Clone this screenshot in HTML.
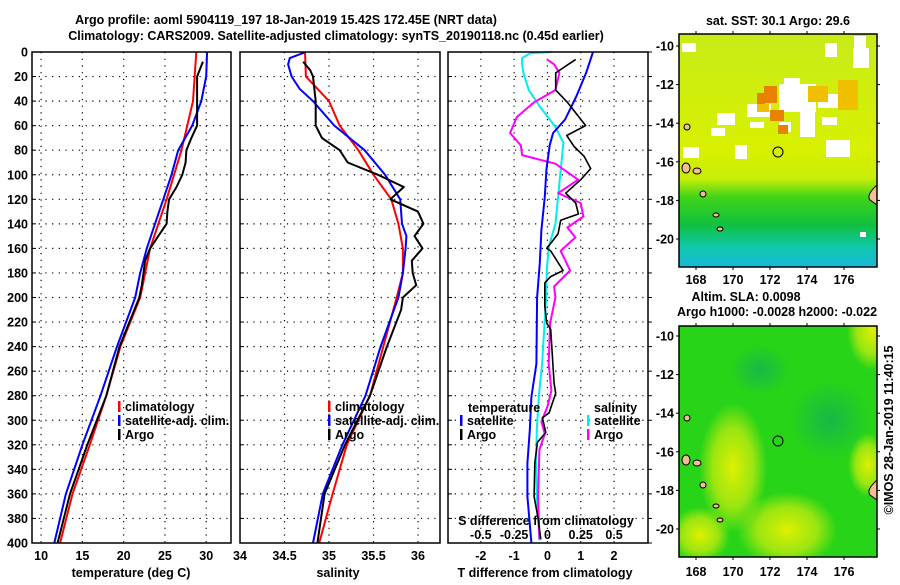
<!DOCTYPE html>
<html><head><meta charset="utf-8"><style>
body{margin:0;background:#fff;width:900px;height:580px;overflow:hidden}
svg text{font-family:"Liberation Sans",sans-serif;font-weight:bold;font-size:12.5px;fill:#000}
</style></head><body>
<svg id="c" width="900" height="580" xmlns="http://www.w3.org/2000/svg">
<text x="286" y="24" text-anchor="middle" font-size="13.5">Argo profile: aoml 5904119_197 18-Jan-2019 15.42S 172.45E (NRT data)</text>
<text x="336" y="40" text-anchor="middle" font-size="13.5">Climatology: CARS2009. Satellite-adjusted climatology: synTS_20190118.nc (0.45d earlier)</text>
<defs>
<linearGradient id="sstg" x1="0" y1="0" x2="0" y2="1">
<stop offset="0" stop-color="#c8ec18"/><stop offset="0.5" stop-color="#d8f000"/><stop offset="0.62" stop-color="#c8ee08"/><stop offset="0.7" stop-color="#40d418"/><stop offset="0.82" stop-color="#10c040"/><stop offset="0.92" stop-color="#10c8b0"/><stop offset="1" stop-color="#18b8d8"/>
</linearGradient>
<radialGradient id="yb"><stop offset="0" stop-color="#e0f000"/><stop offset="0.6" stop-color="#b8ea10" stop-opacity="0.8"/><stop offset="1" stop-color="#b8ea10" stop-opacity="0"/></radialGradient>
<radialGradient id="gb"><stop offset="0" stop-color="#18b848"/><stop offset="1" stop-color="#18b848" stop-opacity="0"/></radialGradient>
<clipPath id="clip1"><rect x="679" y="34" width="198" height="233"/></clipPath>
<clipPath id="clip2"><rect x="679" y="326" width="198" height="231"/></clipPath>
</defs>
<!-- SST map -->
<g>
<text x="778" y="25" text-anchor="middle" font-size="12">sat. SST: 30.1 Argo: 29.6</text>
<g clip-path="url(#clip1)">
<rect x="679" y="34" width="198" height="233" fill="url(#sstg)"/>
<g fill="#fff">
<rect x="682" y="43" width="14" height="9"/><rect x="825" y="43" width="12" height="14"/><rect x="854" y="36" width="12" height="15"/>
<rect x="779" y="84" width="37" height="28"/><rect x="747" y="104" width="24" height="13"/><rect x="800" y="105" width="15" height="32"/>
<rect x="784" y="78" width="16" height="18"/><rect x="818" y="94" width="23" height="14"/><rect x="853" y="48" width="16" height="20"/>
<rect x="717" y="113" width="18" height="12"/><rect x="750" y="122" width="14" height="6"/><rect x="826" y="140" width="24" height="17"/>
<rect x="779" y="122" width="12" height="10"/><rect x="711" y="128" width="14" height="8"/><rect x="822" y="117" width="15" height="8"/>
<rect x="683" y="147" width="16" height="11"/><rect x="735" y="145" width="12" height="14"/><rect x="860" y="232" width="6" height="5"/>
</g>
<g fill="#e88000"><rect x="764" y="86" width="13" height="17"/><rect x="770" y="110" width="14" height="11"/><rect x="778" y="125" width="10" height="9"/><rect x="757" y="93" width="8" height="12"/></g>
<g fill="#f0c000"><rect x="838" y="80" width="20" height="30"/><rect x="808" y="86" width="20" height="16"/><rect x="757" y="104" width="12" height="8"/></g>
<g fill="#f4bd95" stroke="#000" stroke-width="1"><ellipse cx="686" cy="168" rx="4" ry="5"/><ellipse cx="697" cy="171" rx="4" ry="3"/><ellipse cx="703" cy="194" rx="3" ry="3"/><ellipse cx="716" cy="215" rx="3" ry="2"/><ellipse cx="720" cy="229" rx="3" ry="2"/><ellipse cx="687" cy="127" rx="3" ry="3"/><path d="M877 185 Q866 195 870 200 L877 205 Z"/></g>
</g>
<circle cx="778" cy="152" r="5" fill="none" stroke="#000" stroke-width="1"/>
<rect x="679" y="34" width="198" height="233" fill="none" stroke="#000" stroke-width="1.5"/>
</g>
<!-- SLA map -->
<g>
<text x="746" y="301" text-anchor="middle" font-size="12">Altim. SLA: 0.0098</text>
<text x="777" y="316" text-anchor="middle" font-size="12">Argo h1000: -0.0028 h2000: -0.022</text>
<g clip-path="url(#clip2)">
<rect x="679" y="326" width="198" height="231" fill="#28d418"/>
<ellipse cx="733" cy="468" rx="34" ry="65" fill="url(#yb)"/>
<ellipse cx="787" cy="530" rx="50" ry="38" fill="url(#yb)"/>
<ellipse cx="700" cy="535" rx="30" ry="28" fill="url(#yb)"/>
<ellipse cx="872" cy="330" rx="25" ry="40" fill="url(#yb)"/>
<ellipse cx="868" cy="465" rx="20" ry="32" fill="url(#yb)"/>
<ellipse cx="760" cy="370" rx="30" ry="25" fill="url(#gb)"/>
<ellipse cx="830" cy="420" rx="40" ry="40" fill="url(#gb)"/>
<g fill="#f4bd95" stroke="#000" stroke-width="1"><ellipse cx="686" cy="460" rx="4" ry="5"/><ellipse cx="697" cy="463" rx="4" ry="3"/><ellipse cx="703" cy="485" rx="3" ry="3"/><ellipse cx="716" cy="506" rx="3" ry="2"/><ellipse cx="720" cy="520" rx="3" ry="2"/><ellipse cx="687" cy="418" rx="3" ry="3"/><path d="M877 480 Q866 490 870 495 L877 500 Z"/></g>
</g>
<circle cx="778" cy="441" r="5" fill="none" stroke="#000" stroke-width="1"/>
<rect x="679" y="326" width="198" height="231" fill="none" stroke="#000" stroke-width="1.5"/>
<text transform="translate(893,430) rotate(-90)" text-anchor="middle" font-size="12" font-weight="normal">©IMOS 28-Jan-2019 11:40:15</text>
</g>
<g id="plots"></g>
</svg>
<script>
// ---- data ----
const depthTicks=[0,20,40,60,80,100,120,140,160,180,200,220,240,260,280,300,320,340,360,380,400];
const tempTicks=[10,15,20,25,30];
const salTicks=[34,34.5,35,35.5,36];
const tdiffTicks=[-2,-1,0,1,2];
const sdiffTicks=[-0.5,-0.25,0,0.25,0.5];
const latTicks=[-10,-12,-14,-16,-18,-20];
const lonTicks=[168,170,172,174,176];
const tClimD=[0,40,80,120,160,200,240,280,320,360,400];
const tClimV=[28.8,28.4,27.0,25.2,23.2,22.0,19.6,17.9,15.9,13.8,12.3];
const tSatD=[0,20,40,60,80,100,120,140,160,180,200,240,280,320,360,400];
const tSatV=[30.1,30.0,29.4,28.3,26.6,25.8,24.8,23.8,22.8,22.0,21.4,19.2,17.2,15.0,13.0,11.6];
const tArgoD=[8,20,60,70,80,90,100,110,120,130,140,150,160,170,180,190,200,240,280,320,360,400];
const tArgoV=[29.6,28.9,28.9,28.2,27.6,27.5,27.1,26.4,25.5,25.3,25.2,24.2,23.2,22.6,22.4,22.2,21.9,19.5,17.9,15.6,13.5,12.0];
const sClimD=[0,20,40,60,80,100,120,140,160,180,200,240,280,320,360,400];
const sClimV=[34.73,34.74,35.0,35.12,35.33,35.5,35.7,35.78,35.83,35.83,35.76,35.61,35.46,35.2,35.04,34.89];
const sSatD=[0,5,10,20,30,40,60,80,100,120,140,150,160,180,200,240,280,320,360,400];
const sSatV=[34.74,34.56,34.54,34.58,34.67,34.82,35.06,35.4,35.63,35.8,35.82,35.87,35.86,35.83,35.78,35.58,35.41,35.15,34.93,34.82];
const sArgoD=[8,15,20,40,60,70,80,90,100,110,120,130,140,150,160,170,180,190,200,210,240,280,320,360,400];
const sArgoV=[34.71,34.79,34.82,34.85,34.85,34.92,35.12,35.21,35.55,35.84,35.69,36.0,36.06,35.96,36.05,35.93,35.94,35.98,35.83,35.81,35.65,35.46,35.18,34.95,34.87];
const dTSatD=[0,17,36,55,66,76,96,118,145,172,200,254,281,308,335,362,400];
const dTSatV=[1.37,1.16,0.87,0.53,0.17,0.07,-0.03,-0.08,-0.18,-0.23,-0.31,-0.33,-0.48,-0.53,-0.6,-0.6,-0.48];
const dTArgoD=[6,10,17,31,41,60,68,77,85,95,104,115,123,132,137,148,160,162,178,183,188,207,221,226,248,270,278,294,298,310,318,335,362,380,397];
const dTArgoV=[0.85,0.63,0.25,0.25,0.6,1.15,0.58,0.8,1.1,1.3,1.0,0.55,0.85,0.93,0.4,0.32,-0.02,0.1,0.47,0.1,-0.08,-0.08,-0.02,0.1,0.15,0.2,0.25,0.05,-0.15,-0.05,-0.3,-0.38,-0.4,-0.28,-0.2];
const dSSatD=[0,1,5,10,17,31,44,61,74,96,118,140,159,178,200,227,254,281,308,335,362,398];
const dSSatV=[0.03,-0.13,-0.19,-0.19,-0.18,-0.14,-0.06,0.06,0.12,0.1,0.08,0.06,0.01,-0.005,-0.01,-0.025,-0.04,-0.065,-0.08,-0.085,-0.08,-0.06];
const dSArgoD=[6,10,17,31,41,53,66,76,84,91,104,115,123,134,143,151,162,178,191,200,221,254,276,289,301,311,324,362,397];
const dSArgoV=[-0.003,0.05,0.09,0.06,-0.1,-0.23,-0.28,-0.2,-0.19,0.06,0.23,0.08,0.25,0.27,0.15,0.21,0.1,0.17,0.05,0.06,0.02,0.01,0.03,0.0,-0.045,-0.02,-0.06,-0.07,-0.06];

const NS='http://www.w3.org/2000/svg';
const root=document.getElementById('plots');
function mk(tag,attrs,parent){const e=document.createElementNS(NS,tag);for(const k in attrs)e.setAttribute(k,attrs[k]);(parent||root).appendChild(e);return e;}
function txt(x,y,s,anchor,parent){const t=mk('text',{x:x,y:y,'text-anchor':anchor||'middle'},parent);t.textContent=s;return t;}
const Y0=52,Y1=543;
function yS(d){return Y0+(d/400)*(Y1-Y0);}
function panel(name,x0,x1,vmin,vmax,ticks,gridTicks){
  const g=mk('g',{});
  
  
  const xs=v=>x0+(v-vmin)/(vmax-vmin)*(x1-x0);
  depthTicks.forEach(d=>{if(d>0&&d<400)mk('line',{x1:x0,x2:x1,y1:yS(d),y2:yS(d),stroke:'#000','stroke-width':1.2,'stroke-dasharray':'1.2,5.5'},g);
    mk('line',{x1:x0,x2:x0+4,y1:yS(d),y2:yS(d),stroke:'#000','stroke-width':1},g);});
  gridTicks.forEach(v=>{const x=xs(v);if(x>x0+1&&x<x1-1)mk('line',{x1:x,x2:x,y1:Y0,y2:Y1,stroke:'#000','stroke-width':1.2,'stroke-dasharray':'1.2,5.5'},g);});
  return {g,xs};
}
function line(p,D,V,color,w,name){
  const l=mk('polyline',{points:D.map((d,i)=>p.xs(V[i]).toFixed(1)+','+yS(d).toFixed(1)).join(' '),fill:'none',stroke:color,'stroke-width':w,'stroke-linejoin':'round'},p.g);
  
  
}
function frame(p,x0,x1){mk('rect',{x:x0,y:Y0,width:x1-x0,height:Y1-Y0,fill:'none',stroke:'#000','stroke-width':1.5},p.g);}
function legend(p,x,y,items){items.forEach((it,i)=>{mk('rect',{x:x,y:y+i*14-10,width:2.5,height:11,fill:it[0]},p.g);const t=txt(x+7,y+i*14,it[1],'start',p.g);});}

// panel 1 temperature
const p1=panel('temperature-panel',32,231,8.9,33.0,tempTicks,tempTicks);
depthTicks.forEach(d=>{const t=txt(28,yS(d)+4.5,String(d),'end',p1.g);});
tempTicks.forEach(v=>txt(p1.xs(v),560,String(v),'middle',p1.g));
{const t=txt(131,577,'temperature (deg C)','middle',p1.g);}
line(p1,tClimD,tClimV,'#f00',2,'climatology-temperature-line');
line(p1,tSatD,tSatV,'#00f',2,'satellite-temperature-line');
line(p1,tArgoD,tArgoV,'#000',2,'argo-temperature-line');
legend(p1,118,411,[['#f00','climatology'],['#00f','satellite-adj. clim.'],['#000','Argo']]);
frame(p1,32,231);

// panel 2 salinity
const p2=panel('salinity-panel',240,440,34,36.247,salTicks,salTicks);
salTicks.forEach(v=>txt(p2.xs(v),560,String(v),'middle',p2.g));
{const t=txt(338,577,'salinity','middle',p2.g);}
line(p2,sClimD,sClimV,'#f00',2,'climatology-salinity-line');
line(p2,sSatD,sSatV,'#00f',2,'satellite-salinity-line');
line(p2,sArgoD,sArgoV,'#000',2,'argo-salinity-line');
legend(p2,328,411,[['#f00','climatology'],['#00f','satellite-adj. clim.'],['#000','Argo']]);
frame(p2,240,440);

// panel 3 differences
const p3=panel('difference-panel',448,648,-2.985,3.02,tdiffTicks,tdiffTicks);
const p3s={g:p3.g,xs:v=>p3.xs(v*4)};
depthTicks.forEach(d=>mk('line',{x1:648,x2:652,y1:yS(d),y2:yS(d),stroke:'#000'},p3.g));
tdiffTicks.forEach(v=>txt(p3.xs(v),560,String(v),'middle',p3.g));
{const t=txt(545,577,'T difference from climatology','middle',p3.g);}
{const t=txt(546,525,'S difference from climatology','middle',p3.g);}
sdiffTicks.forEach(v=>txt(p3s.xs(v),539,String(v),'middle',p3.g));
line(p3s,dSSatD,dSSatV,'#0ee',2,'satellite-salinity-diff-line');
line(p3s,dSArgoD,dSArgoV,'#f0f',2,'argo-salinity-diff-line');
line(p3,dTSatD,dTSatV,'#00f',2,'satellite-temperature-diff-line');
line(p3,dTArgoD,dTArgoV,'#000',1.6,'argo-temperature-diff-line');
txt(468,412,'temperature','start',p3.g);
txt(594,412,'salinity','start',p3.g);
legend(p3,460,425,[['#00f','satellite'],['#000','Argo']]);
legend(p3,587,425,[['#0ee','satellite'],['#f0f','Argo']]);
frame(p3,448,648);

// map axis labels
function mapAxes(x0,x1,yTop,yBot,latY10,latY20,lonLabelY,name){
  const g=mk('g',{});
  
  
  latTicks.forEach(v=>{const y=latY10+(v+10)/(-10)*(latY20-latY10);txt(x0-5,y+4.5,String(v),'end',g);
    mk('line',{x1:x0-3,x2:x0,y1:y,y2:y,stroke:'#000'},g);mk('line',{x1:x1,x2:x1+3,y1:y,y2:y,stroke:'#000'},g);});
  lonTicks.forEach(v=>{const x=696+(v-168)*18.5;txt(x,lonLabelY,String(v),'middle',g);
    mk('line',{x1:x,x2:x,y1:yBot,y2:yBot+3,stroke:'#000'},g);mk('line',{x1:x,x2:x,y1:yTop-3,y2:yTop,stroke:'#000'},g);});
}
mapAxes(679,877,34,267,46,239,284,'sst-map-axes');
mapAxes(679,877,326,557,336,529,576,'sla-map-axes');
</script>
</body></html>
